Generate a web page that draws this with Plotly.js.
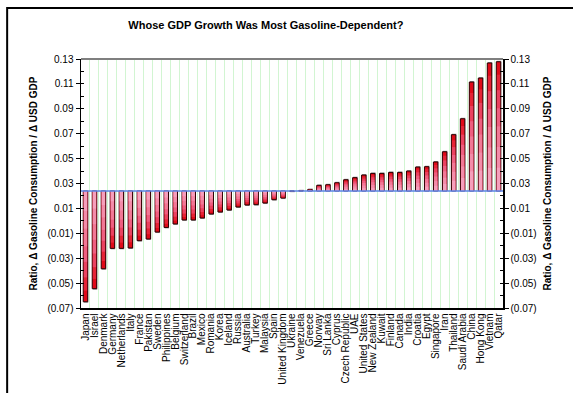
<!DOCTYPE html>
<html>
<head>
<meta charset="utf-8">
<script src="https://cdn.plot.ly/plotly-3.0.1.min.js"></script>
<style>html,body{margin:0;padding:0;background:#fff;}#chart{width:573px;height:393px;}</style>
</head>
<body>
<div id="chart"></div>
<script>
const categories = ["Japan","Israel","Denmark","Germany","Netherlands","Italy","France","Pakistan","Sweden","Philippines","Belgium","Switzerland","Brazil","Mexico","Romania","Korea","Iceland","Russia","Australia","Turkey","Malaysia","Spain","United Kingdom","Ukraine","Venezuela","Greece","Norway","Sri Lanka","Cyprus","Czech Republic","UAE","United States","New Zealand","Kuwait","Finland","Canada","India","Croatia","Egypt","Singapore","Iran","Thailand","Saudi Arabia","China","Hong Kong","Vietnam","Qatar"];
const values = [-0.065,-0.0545,-0.0385,-0.0221,-0.0221,-0.0218,-0.0159,-0.0146,-0.009,-0.0053,-0.0025,0.0007,0.0007,0.0023,0.0055,0.0071,0.0087,0.0111,0.0127,0.013,0.0143,0.017,0.0183,0.0238,0.0242,0.0252,0.0285,0.029,0.0306,0.033,0.0347,0.0368,0.0381,0.0381,0.0389,0.0389,0.04,0.0432,0.0435,0.0473,0.0555,0.0692,0.082,0.1115,0.1147,0.1268,0.1278];
const baseline = 0.024;
const tickVals = [-0.07,-0.05,-0.03,-0.01,0.01,0.03,0.05,0.07,0.09,0.11,0.13];
const tickText = ["(0.07)","(0.05)","(0.03)","(0.01)","0.01","0.03","0.05","0.07","0.09","0.11","0.13"];
const titleText = "Whose GDP Growth Was Most Gasoline-Dependent?";
const axisTitle = "Ratio, \u0394 Gasoline Consumption / \u0394 USD GDP";

const font = "Liberation Sans, Arial, sans-serif";
const lengths = values.map(v => v - baseline);

// gradient layers: fraction of bar length from base, colour
const layers = [
  [1.0, "#e00a18"],
  [0.9, "#e62436"],
  [0.78, "#eb4260"],
  [0.64, "#ef5e80"],
  [0.5, "#f27896"],
  [0.34, "#f48caa"],
  [0.18, "#f69fbc"]
];
const traces = [];
// shadow
traces.push({
  type: "bar", x: categories, y: lengths.map(l => l + (l >= 0 ? 0.0008 : -0.0008)), base: baseline,
  width: 0.5, offset: -0.19, marker: {color: "#a0a0a0", line: {width: 0}},
  hoverinfo: "skip", showlegend: false
});
layers.forEach((ly, i) => {
  traces.push({
    type: "bar", x: categories, y: lengths.map(l => l * ly[0]), base: baseline,
    width: i === 0 ? 0.5 : 0.36,
    marker: {color: ly[1], line: {width: i === 0 ? 1 : 0, color: "#2a0000"}},
    hoverinfo: "skip", showlegend: false
  });
});
traces.push({
  type: "scatter", mode: "markers", x: categories, y: values, yaxis: "y2",
  marker: {opacity: 0}, hoverinfo: "skip", showlegend: false
});

const yCommon = {
  range: [-0.07, 0.13], autorange: false,
  tickmode: "array", tickvals: tickVals, ticktext: tickText,
  ticks: "outside", ticklen: 4, tickwidth: 1, tickcolor: "#000",
  minor: {dtick: 0.01, tick0: -0.07, ticks: "inside", ticklen: 3, tickcolor: "#000", showgrid: false},
  showline: true, linecolor: "#000", linewidth: 1.5,
  showgrid: false, zeroline: false,
  tickfont: {family: font, size: 10, color: "#000"},
  title: {text: axisTitle, font: {family: font, size: 10, color: "#000", weight: "bold"}, standoff: 8}
};

const layout = {
  width: 573, height: 393, autosize: false,
  margin: {l: 81, r: 70, t: 59, b: 85},
  paper_bgcolor: "#fff", plot_bgcolor: "#fff",
  barmode: "overlay", showlegend: false,
  title: {text: "<b>" + titleText + "</b>", font: {family: font, size: 11, color: "#000"},
          x: 0.464, xanchor: "center", xref: "container", y: 0.936, yanchor: "middle", yref: "container"},
  xaxis: {
    type: "category", tickson: "boundaries", ticks: "", showgrid: true, gridcolor: "#d2f5d2", gridwidth: 1,
    tickmode: "array", tickvals: categories, ticktext: categories,
    tickangle: -90, tickfont: {family: font, size: 10, color: "#000"},
    showline: true, linecolor: "#000", linewidth: 1.5, zeroline: false, range: [-0.5, categories.length - 0.5]
  },
  yaxis: Object.assign({}, yCommon, {side: "left"}),
  yaxis2: Object.assign({}, yCommon, {side: "right", overlaying: "y"}),
  shapes: [
    {type: "line", xref: "paper", yref: "paper", x0: 0, x1: 1, y0: 1, y1: 1, line: {color: "#7f7f7f", width: 2}},
    {type: "line", xref: "paper", yref: "y", x0: 0, x1: 1, y0: baseline, y1: baseline, line: {color: "#5a82e6", width: 1.5}, layer: "above"},
    {type: "rect", xref: "paper", yref: "paper", x0: -0.175, x1: 1.25, y0: -0.45, y1: 1.205, line: {color: "#000", width: 2}, fillcolor: "rgba(0,0,0,0)"}
  ]
};

Plotly.newPlot("chart", traces, layout, {staticPlot: true, displayModeBar: false});
</script>
</body>
</html>
